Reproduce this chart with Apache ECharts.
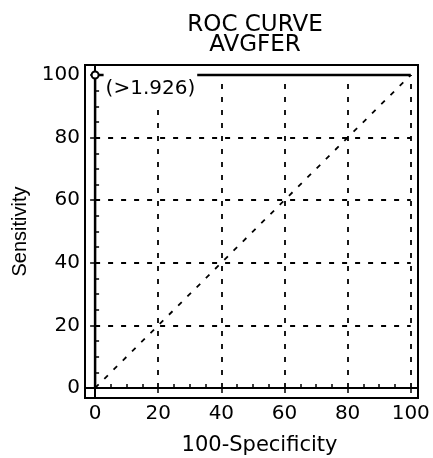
<!DOCTYPE html>
<html>
<head>
<meta charset="utf-8">
<script src="https://cdn.jsdelivr.net/npm/echarts@6/dist/echarts.min.js"></script>
<style>
  html, body { margin: 0; padding: 0; background: #fff; }
  #chart { width: 433px; height: 458px; }
</style>
</head>
<body>
<div id="chart"></div>
<script>
// tick positions
const majorTicks = [0, 20, 40, 60, 80, 100]
const minorTicks = [5, 10, 15, 25, 30, 35, 45, 50, 55, 65, 70, 75, 85, 90, 95]
// dashed reference grid
const gridX = [20, 40, 60, 80, 100]
const gridY = [0, 20, 40, 60, 80]
// roc curve points
const rocX = [0, 0, 100]   // 100-Specificity
const rocY = [0, 100, 100] // Sensitivity
const cutoffIndex = 1
const cutoffLabel = '(>1.926)'

const font = 'DejaVu Sans'
const dash = [5, 8]

const chart = echarts.init(document.getElementById('chart'))

const rocData = rocX.map((x, i) => {
  let item = { value: [x, rocY[i]], symbol: 'none' }
  if (i === cutoffIndex) {
    item.symbol = 'emptyCircle'
    item.symbolSize = 7
    item.label = {
      show: true,
      position: 'right',
      distance: 4,
      offset: [0, 14],
      formatter: cutoffLabel,
      fontFamily: font,
      fontSize: 20,
      color: '#000',
      backgroundColor: '#fff',
      padding: [11, 2, 1, 2],
      lineHeight: 20
    }
  }
  return item
})

let lines = []
gridX.forEach(v => lines.push([{ coord: [v, 0] }, { coord: [v, 100] }]))
gridY.forEach(v => lines.push([{ coord: [0, v] }, { coord: [100, v] }]))
lines.push([{ coord: [0, 0] }, { coord: [100, 100] }]) // chance line

const axisBase = {
  type: 'value',
  splitLine: { show: false },
  axisLine: { show: true, lineStyle: { color: '#000', width: 2 } }
}

let option = {
  backgroundColor: '#fff',
  animation: false,
  title: {
    text: 'ROC CURVE\nAVGFER',
    left: 250,
    top: 10,
    textAlign: 'center',
    textStyle: {
      fontFamily: font,
      fontSize: 23,
      fontWeight: 'normal',
      color: '#000',
      lineHeight: 20
    }
  },
  grid: {
    left: 85,
    right: 15,
    top: 65,
    bottom: 60,
    show: true,
    borderColor: '#000',
    borderWidth: 2,
    containLabel: false,
    outerBoundsMode: 'none'
  },
  xAxis: [
    {
      ...axisBase,
      min: -3.2,
      max: 102.3,
      position: 'bottom',
      name: '100-Specificity',
      nameLocation: 'middle',
      nameGap: 37,
      nameTextStyle: { fontFamily: font, fontSize: 21, color: '#000', padding: [0, 0, 0, 16] },
      axisTick: { show: true, inside: false, length: 5, customValues: majorTicks, lineStyle: { color: '#000', width: 1.5 } },
      axisLabel: { customValues: majorTicks, margin: 6, fontFamily: font, fontSize: 20, color: '#000' }
    },
    {
      ...axisBase,
      min: -3.2,
      max: 102.3,
      position: 'bottom',
      axisLine: { show: false },
      axisTick: { show: true, inside: true, length: 4, customValues: minorTicks, lineStyle: { color: '#000', width: 1.5 } },
      axisLabel: { show: false }
    }
  ],
  yAxis: [
    {
      ...axisBase,
      min: -3.2,
      max: 103.2,
      position: 'left',
      name: 'Sensitivity',
      nameLocation: 'middle',
      nameGap: 51,
      nameRotate: 90,
      nameTextStyle: { fontFamily: 'Liberation Sans', fontSize: 20, color: '#000' },
      axisTick: { show: true, inside: false, length: 5, customValues: majorTicks, lineStyle: { color: '#000', width: 1.5 } },
      axisLabel: { customValues: majorTicks, margin: 5, fontFamily: font, fontSize: 20, color: '#000' }
    },
    {
      ...axisBase,
      min: -3.2,
      max: 103.2,
      position: 'left',
      axisLine: { show: false },
      axisTick: { show: true, inside: true, length: 4, customValues: minorTicks, lineStyle: { color: '#000', width: 1.5 } },
      axisLabel: { show: false }
    }
  ],
  series: [
    {
      type: 'line',
      xAxisIndex: 0,
      yAxisIndex: 0,
      data: rocData,
      lineStyle: { color: '#000', width: 2.5 },
      itemStyle: { color: '#000', borderColor: '#000', borderWidth: 1.5 },
      silent: true,
      z: 3,
      markLine: {
        silent: true,
        symbol: ['none', 'none'],
        label: { show: false },
        lineStyle: { color: '#000', width: 1.8, type: dash },
        data: lines,
        z: 1
      }
    }
  ]
}
chart.setOption(option)
</script>
</body>
</html>
